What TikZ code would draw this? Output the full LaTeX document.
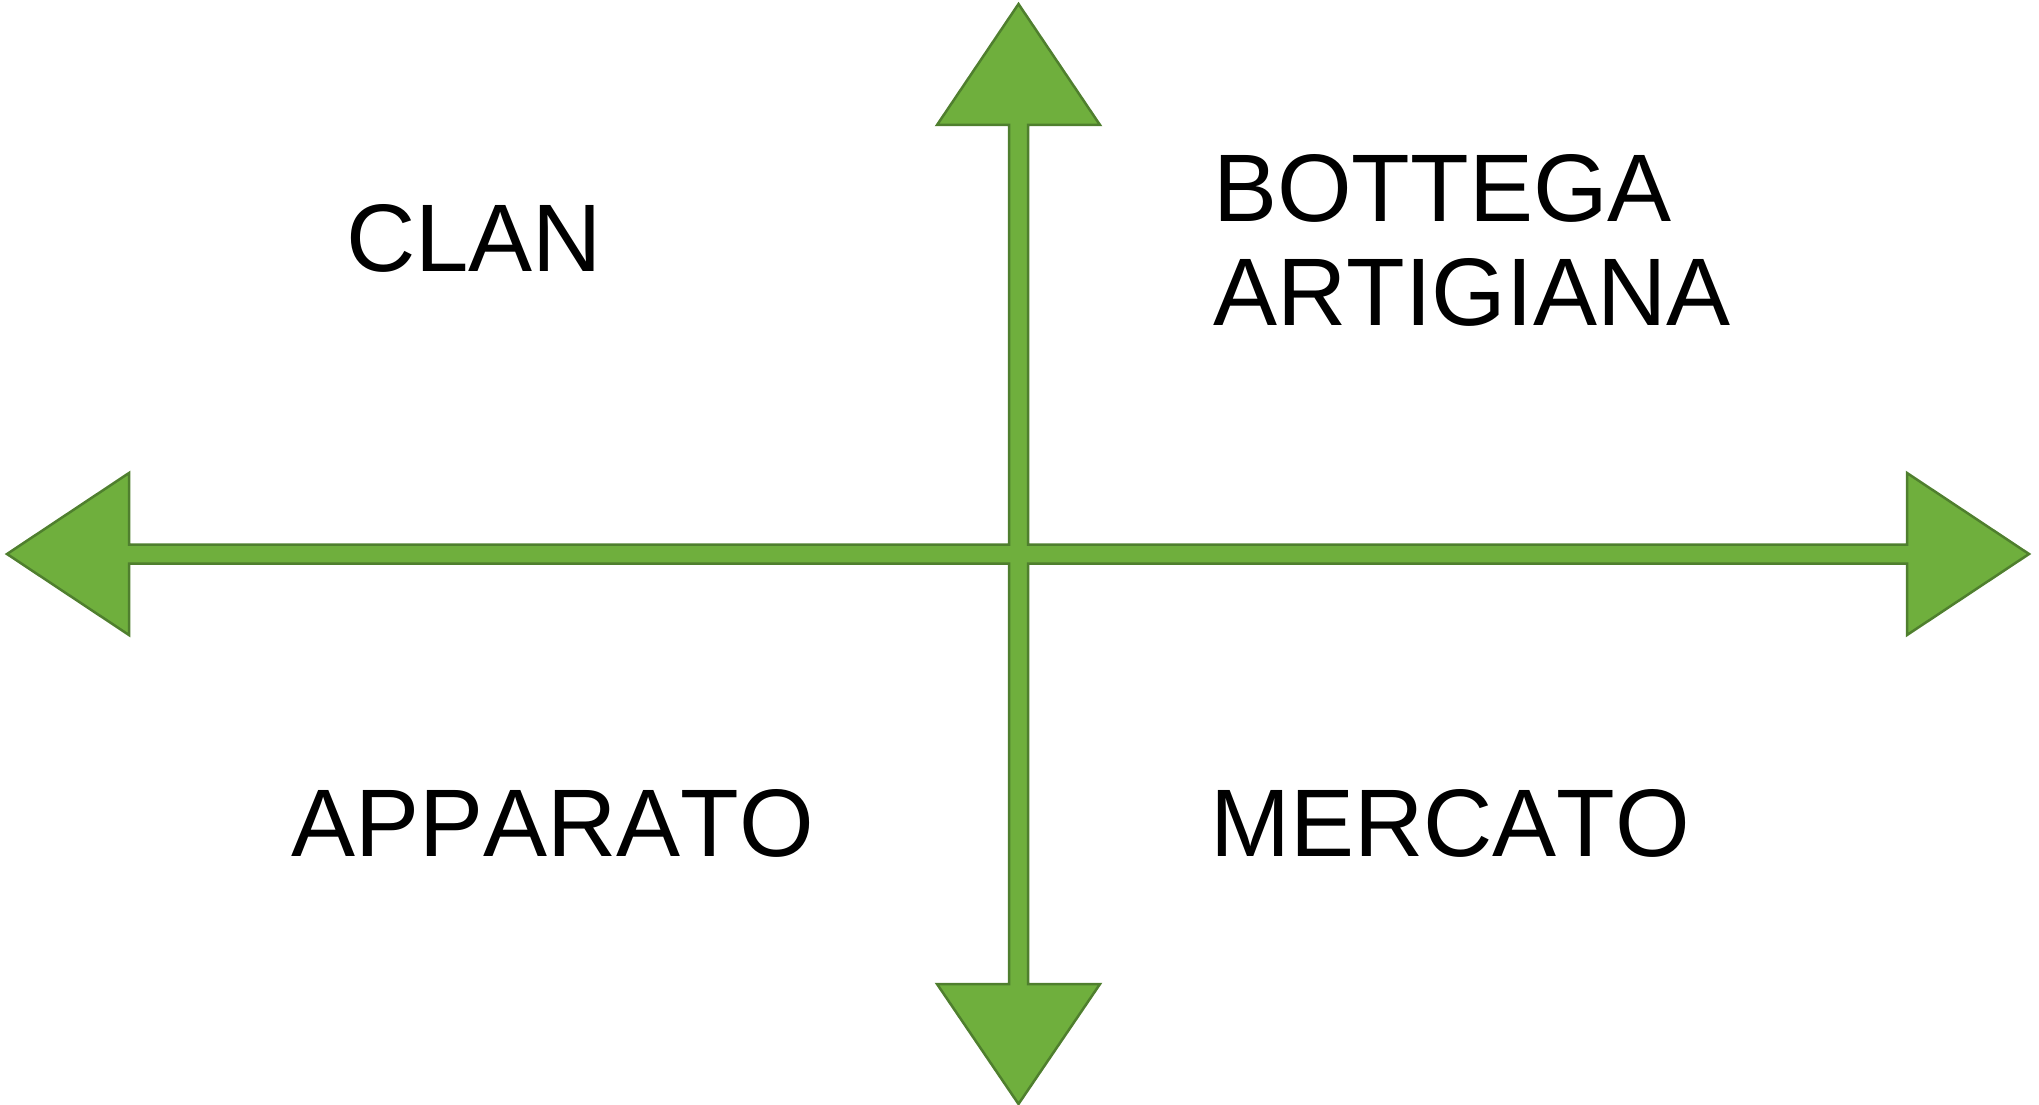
\documentclass[tikz,border=0pt]{standalone}
\usepackage{fontspec}
\setmainfont[Kerning=Off]{Liberation Sans}
\definecolor{axisfill}{HTML}{6FAF3D}
\definecolor{axisline}{HTML}{4F7F2E}
\tikzset{
  axisshape/.style={fill=axisfill, draw=axisline, line width=2.5pt, line join=miter},
  quadlabel/.style={anchor=base west, inner sep=0pt, align=left,
    font=\fontsize{96}{104}\selectfont}
}
\begin{document}
\begin{tikzpicture}[x=1pt,y=-1pt]
      \useasboundingbox (0,0) rectangle (2039,1105);
      % Axes
      \draw[axisshape] (1018.5,4) -- (1100,125) -- (1028,125) -- (1028,544.5)
        -- (1907,544.5) -- (1907,473) -- (2029,554) -- (1907,635) -- (1907,563.5)
        -- (1028,563.5) -- (1028,984) -- (1100,984) -- (1018.5,1104) -- (937,984)
        -- (1009,984) -- (1009,563.5) -- (129,563.5) -- (129,635) -- (7,554)
        -- (129,473) -- (129,544.5) -- (1009,544.5) -- (1009,125) -- (937,125) -- cycle;

      % Labels
      \node[quadlabel] (clan) at (346,271.7) {CLAN};
      \node[quadlabel] (bottega) at (1213,325) {BOTTEGA\\ARTIGIANA};
      \node[quadlabel] (apparato) at (291,856) {APPARATO};
      \node[quadlabel] (mercato) at (1210,856) {MERCATO};
    \end{tikzpicture}
\end{document}
